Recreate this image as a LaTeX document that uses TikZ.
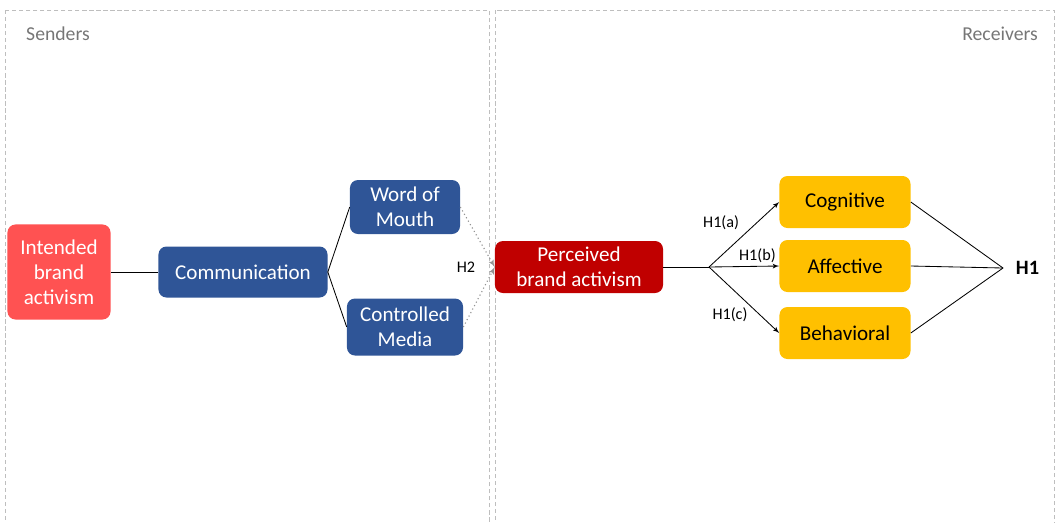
\documentclass[tikz,border=0pt]{standalone}
\usepackage{fontspec}
\setmainfont{Carlito}
\usetikzlibrary{shapes,arrows}

\definecolor{intendred}{RGB}{255,82,82}
\definecolor{commblue}{RGB}{47,85,151}
\definecolor{percred}{RGB}{192,0,0}
\definecolor{respgold}{RGB}{255,192,0}
\definecolor{framegrey}{RGB}{190,190,190}
\definecolor{labelgrey}{RGB}{118,118,118}

\begin{document}
\begin{tikzpicture}[x=0.025cm, y=-0.025cm]
        % Define block styles
        \tikzstyle{block} = [rectangle, fill=commblue, text=white, align=center,
            rounded corners=0.2cm, font=\fontsize{15}{17.8}\selectfont]
        \tikzstyle{sender} = [block, fill=intendred, minimum width=2.575cm, minimum height=2.375cm]
        \tikzstyle{channel} = [block, fill=commblue]
        \tikzstyle{percept} = [block, fill=percred, minimum width=4.2cm, minimum height=1.3cm]
        \tikzstyle{response} = [block, fill=respgold, text=black, minimum width=3.275cm, minimum height=1.3cm]
        \tikzstyle{frame} = [draw=framegrey, dash pattern=on 3pt off 2pt, line width=0.6pt]
        \tikzstyle{side} = [text=labelgrey, font=\fontsize{14}{16}\selectfont]
        \tikzstyle{hyp} = [font=\fontsize{11.5}{13}\selectfont]
        \tikzstyle{line} = [draw, line width=0.6pt]
        \tikzstyle{arrow} = [draw, line width=0.6pt, -latex']
        \tikzstyle{dotline} = [draw=gray!85, dotted, line width=0.8pt, -latex']

        \useasboundingbox (0,0) rectangle (1056,522);

        % Frames
        \draw [frame] (5,10) rectangle (489,530);
        \draw [frame] (495,10) rectangle (1054,530);
        \node [side] (senders) at (58,34) {Senders};
        \node [side] (receivers) at (1000,34) {Receivers};

        % Nodes
        \node [sender] (intended) at (59,272) {Intended\\brand\\activism};
        \node [channel, minimum width=4.225cm, minimum height=1.275cm] (comm) at (243,272) {Communication};
        \node [channel, minimum width=2.75cm, minimum height=1.35cm] (wom) at (405,207) {Word of\\Mouth};
        \node [channel, minimum width=2.9cm, minimum height=1.425cm] (media) at (405,327) {Controlled\\Media};
        \node [percept] (perceived) at (579,267) {Perceived\\brand activism};
        \node [response] (cognitive) at (845,202) {Cognitive};
        \node [response] (affective) at (845,266) {Affective};
        \node [response] (behavioral) at (845,333) {Behavioral};
        \coordinate (split) at (709,267);
        \coordinate (hub) at (1003,268);
        \node [font=\fontsize{14.5}{16}\selectfont\bfseries, anchor=west] (h1) at (1011,268) {H1};
        \node [hyp] (h2) at (466,267) {H2};

        % Arrows
        \path [line] (intended) -- (comm);
        \path [line] (comm.east) -- (wom.west);
        \path [line] (comm.east) -- (media.west);
        \path [dotline] (wom.east) -- (perceived.west);
        \path [dotline] (media.east) -- (perceived.west);
        \path [line] (perceived) -- (split);
        \path [arrow] (split) -- node[hyp, above left, pos=0.5] {H1(a)} (cognitive.west);
        \path [arrow] (split) -- node[hyp, above, pos=0.69, yshift=-1pt] {H1(b)} (affective.west);
        \path [arrow] (split) -- node[hyp, below left, pos=0.62, yshift=0.14cm] {H1(c)} (behavioral.west);
        \path [line] (cognitive.east) -- (hub);
        \path [line] (affective.east) -- (hub);
        \path [line] (behavioral.east) -- (hub);
    \end{tikzpicture}
\end{document}
